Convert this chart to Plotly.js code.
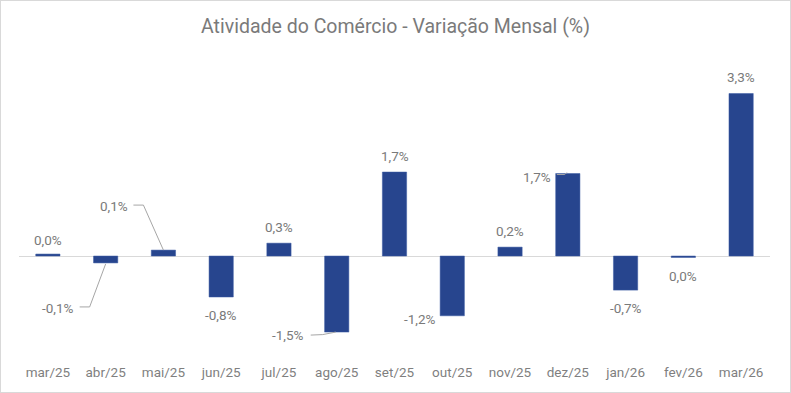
<!DOCTYPE html>
<html>
<head>
<meta charset="utf-8">
<script src="https://cdn.plot.ly/plotly-3.0.1.min.js"></script>
<style>
  html, body { margin: 0; padding: 0; background: #fff; }
  #chart { width: 789px; height: 391px; border: 1px solid #d9d9d9; }
</style>
</head>
<body>
<div id="chart"></div>
<script>
// ---- data ----
const months = ["mar/25","abr/25","mai/25","jun/25","jul/25","ago/25","set/25","out/25","nov/25","dez/25","jan/26","fev/26","mar/26"];
const variation = [0.04, -0.14, 0.12, -0.83, 0.26, -1.54, 1.70, -1.21, 0.18, 1.67, -0.69, -0.03, 3.29];
const titleText = "Atividade do Comércio - Variação Mensal (%)";

// ---- label formatting ----
function fmt(v) {
  let s = v.toFixed(1);
  if (s === "-0.0") s = "0.0";
  return s.replace(".", ",") + "%";
}

// label placement offsets (pixels relative to bar end)
const labelOffset = {
  0: [0, 14], 1: [-47.5, -45], 2: [-49.5, 44], 5: [-48.5, -3], 7: [-32, -3], 9: [-30.5, -3]
};
// leader line paths (pixels relative to bar end, y up)
const leaders = {
  1: "M -26 -44 L -16 -44 L 0 -1",
  2: "M -30 45 L -20 45 L 0 0",
  5: "M -26 -3 L -14 -2.5 L -1 0",
  9: "M -11 -1 L -3 -1 L -1 1"
};

const labelColor = "#7a7a7a";
const annotations = variation.map((v, i) => {
  const off = labelOffset[i] || [0, v >= 0 ? 16 : -18];
  return {
    x: months[i], y: v, xref: "x", yref: "y",
    text: fmt(v), showarrow: false,
    xanchor: "center", yanchor: "middle",
    xshift: off[0], yshift: off[1],
    font: { family: "Roboto", size: 13.5, color: labelColor }
  };
});

const shapes = Object.keys(leaders).map(k => {
  const i = +k;
  return {
    type: "path", xref: "x", yref: "y",
    xsizemode: "pixel", ysizemode: "pixel",
    xanchor: i, yanchor: variation[i],
    path: leaders[k],
    line: { color: "#a6a6a6", width: 1 }
  };
});

const trace = {
  type: "bar",
  x: months,
  y: variation,
  marker: { color: "#27458e", line: { color: "#3a5aa3", width: 0.5 } },
  hoverinfo: "x+y"
};

const layout = {
  width: 789, height: 391,
  margin: { l: 18, r: 20, t: 59, b: 32 },
  paper_bgcolor: "#ffffff", plot_bgcolor: "#ffffff",
  separators: ",.",
  title: {
    text: titleText, x: 0.5, xanchor: "center", y: 0.935, yanchor: "middle",
    font: { family: "Roboto", size: 19.5, color: "#7a7a7a" }
  },
  bargap: 0.58,
  showlegend: false,
  xaxis: {
    type: "category",
    showgrid: false, showline: false, zeroline: false, ticks: "",
    ticklabelstandoff: 2,
    tickfont: { family: "Roboto", size: 13.5, color: "#7f7f7f" },
    fixedrange: true
  },
  yaxis: {
    range: [-2.105, 3.968],
    showgrid: false, showline: false, showticklabels: false, ticks: "",
    zeroline: true, zerolinecolor: "#d9d9d9", zerolinewidth: 1,
    fixedrange: true
  },
  annotations: annotations,
  shapes: shapes
};

Plotly.newPlot("chart", [trace], layout, { displayModeBar: false, staticPlot: true });
</script>
</body>
</html>
